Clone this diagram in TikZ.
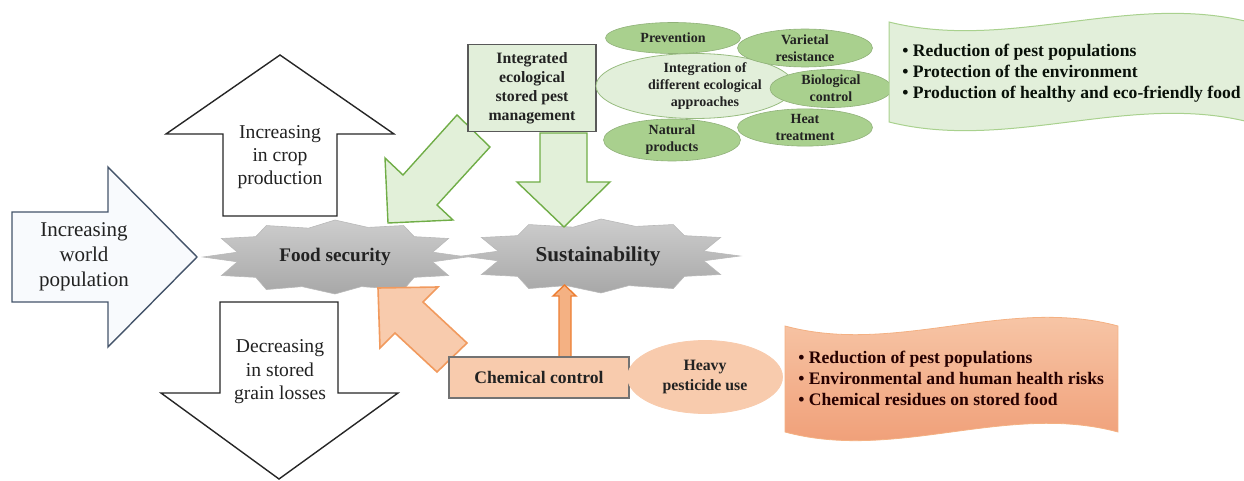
\documentclass[tikz,border=0pt]{standalone}
\usepackage{fontspec}
\setmainfont{Liberation Serif}
\usetikzlibrary{shapes.geometric}
\definecolor{gfill}{HTML}{E2EFDA}
\definecolor{gline}{HTML}{A9D18E}
\definecolor{gmid}{HTML}{A9D08E}
\definecolor{garrowline}{HTML}{70AD47}
\definecolor{garrowfill}{HTML}{E2F0D9}
\definecolor{ofill}{HTML}{F8CBAD}
\definecolor{oline}{HTML}{F19A5E}
\definecolor{odark}{HTML}{F4B183}
\definecolor{odeep}{HTML}{ED7D31}
\definecolor{obottom}{HTML}{EF9A72}
\definecolor{slate}{HTML}{44546A}
\definecolor{palebl}{HTML}{F8FAFD}
\definecolor{txt}{HTML}{222222}
\definecolor{startop}{HTML}{CDCDCD}
\definecolor{starbot}{HTML}{A8A8A8}
\begin{document}
\begin{tikzpicture}[x=0.5pt,y=-0.5pt,line join=miter,
  whitearrow/.style={draw=black!85,fill=white,line width=0.7pt},
  popArrow/.style={draw=slate,fill=palebl,line width=0.7pt},
  greenarrow/.style={draw=garrowline,fill=garrowfill,line width=0.7pt},
  orangearrow/.style={draw=oline,fill=ofill,line width=0.8pt},
  smallorange/.style={draw=odeep,fill=odark,line width=0.7pt},
  starfill/.style={draw=gray!55,line width=0.3pt,top color=startop,bottom color=starbot},
  gellipse/.style={ellipse,draw=gmid!85!black,line width=0.3pt,fill=gmid,inner sep=0pt,
     text=txt,font=\bfseries\fontsize{7}{8.5}\selectfont,align=center},
  lbl/.style={text=txt,align=center,inner sep=0pt},
  starpic/.pic={\path[starfill] (-1,0) -- (-0.74,-0.13) -- (-0.86,-0.5) -- (-0.6,-0.55) -- (-0.52,-0.85)
     -- (-0.2,-0.78) -- (0,-1) -- (0.25,-0.8) -- (0.52,-0.85) -- (0.6,-0.55) -- (0.86,-0.5) -- (0.74,-0.13)
     -- (1,0) -- (0.74,0.13) -- (0.86,0.5) -- (0.6,0.55) -- (0.52,0.88) -- (0.2,0.8) -- (0,1)
     -- (-0.25,0.8) -- (-0.52,0.88) -- (-0.6,0.55) -- (-0.86,0.5) -- (-0.74,0.13) -- cycle;}
]
\useasboundingbox (0,0) rectangle (1244,481);
\clip (0,0) rectangle (1244,481);

% big outline arrows
\path[popArrow] (12,212) -- (108,212) -- (108,167) -- (197,257) -- (108,347) -- (108,302) -- (12,302) -- cycle;
\path[whitearrow] (223,216) -- (223,134) -- (166,134) -- (280,55) -- (394,134) -- (337,134) -- (337,216) -- cycle;
\path[whitearrow] (220,302) -- (338,302) -- (338,393) -- (398,393) -- (279,479) -- (161,393) -- (220,393) -- cycle;

% stars
\pic[xscale=132,yscale=37] at (335,257) {starpic};
\pic[xscale=139,yscale=37] at (601,256) {starpic};

% green arrows
\path[greenarrow] (457,115) -- (403,175) -- (385,158) -- (388,223) -- (453,220) -- (437,205) -- (490,147) -- cycle;
\path[greenarrow] (540,133) -- (587,133) -- (587,182) -- (610,182) -- (564,227) -- (517,182) -- (540,182) -- cycle;

% orange arrows
\path[orangearrow] (378,288) -- (438,287) -- (423,302) -- (467,343) -- (437,372) -- (395,333) -- (380,348) -- cycle;
\path[smallorange] (559,357) -- (559,296) -- (553,296) -- (564.5,285) -- (576,296) -- (571,296) -- (571,357) -- cycle;

% labels of the big arrows
\node[lbl,font=\fontsize{10.5}{12.5}\selectfont] (pop) at (84,257) {Increasing\\world\\population};
\node[lbl,font=\fontsize{9.8}{11.6}\selectfont] (crop) at (280,157) {Increasing\\in crop\\production};
\node[lbl,font=\fontsize{9.8}{11.8}\selectfont] (loss) at (280,372) {Decreasing\\in stored\\grain losses};

% star labels
\node[lbl,font=\bfseries\fontsize{9.6}{11}\selectfont] (food) at (335,257) {Food security};
\node[lbl,font=\bfseries\fontsize{10.6}{12}\selectfont] (sust) at (598,256) {Sustainability};

% IESPM box
\node[draw=black!65,fill=gfill,line width=0.6pt,minimum width=64pt,minimum height=43.5pt,inner sep=0pt,
      text=txt,align=center,font=\bfseries\fontsize{7.9}{9.5}\selectfont] (iespm) at (532,88)
      {Integrated\\ecological\\stored pest\\management};

% ellipses
\node[ellipse,draw=gline!90!black,line width=0.4pt,fill=gfill,minimum width=99pt,minimum height=32.5pt,inner sep=0pt] (integ) at (695,86) {};
\node[lbl,font=\bfseries\fontsize{7}{8.3}\selectfont] (integtxt) at (705,86) {Integration of\\different ecological\\approaches};
\node[gellipse,minimum width=67.5pt,minimum height=15.5pt] (prev) at (673,38) {Prevention};
\node[gellipse,minimum width=67.5pt,minimum height=15pt] (vari) at (805,48) {Varietal\\resistance};
\node[gellipse,minimum width=61pt,minimum height=16.5pt] (bio) at (831,88.5) {Biological\\control};
\node[gellipse,minimum width=68.5pt,minimum height=18.5pt] (nat) at (672,140) {Natural\\products};
\node[gellipse,minimum width=67.5pt,minimum height=17.5pt] (heat) at (805,127.5) {Heat\\treatment};

% green banner
\path[fill=gfill,draw=gline,line width=0.5pt] (889,22) .. controls (1009,52) and (1129,-8) .. (1249,22)
   -- (1249,122) .. controls (1129,92) and (1009,152) .. (889,122) -- cycle;
\node[anchor=west,align=left,inner sep=0pt,text=txt!90!green!30!black,font=\bfseries\fontsize{8.8}{10.5}\selectfont] (gben) at (902,73)
  {• Reduction of pest populations\\• Protection of the environment\\• Production of healthy and eco-friendly food};

% chemical control
\node[draw=black!55,fill=ofill,line width=0.6pt,minimum width=90pt,minimum height=20.5pt,inner sep=0pt,
      text=txt,font=\bfseries\fontsize{8.8}{10}\selectfont] (chem) at (539,377.5) {Chemical control};
\node[ellipse,draw=ofill,fill=ofill,minimum width=77.5pt,minimum height=36.5pt,inner sep=0pt,
      text=txt,align=center,font=\bfseries\fontsize{7.9}{10}\selectfont] (heavy) at (705,377) {Heavy\\pesticide use};

% orange banner
\path[top color=ofill,bottom color=obottom,draw=odark,line width=0.4pt] (785,326) .. controls (896,356) and (1007,296) .. (1118,326)
   -- (1118,432) .. controls (1007,402) and (896,462) .. (785,432) -- cycle;
\node[anchor=west,align=left,inner sep=0pt,text=black!85!red,font=\bfseries\fontsize{8.8}{10.5}\selectfont] (oben) at (798,378)
  {• Reduction of pest populations\\• Environmental and human health risks\\• Chemical residues on stored food};
\end{tikzpicture}
\end{document}
